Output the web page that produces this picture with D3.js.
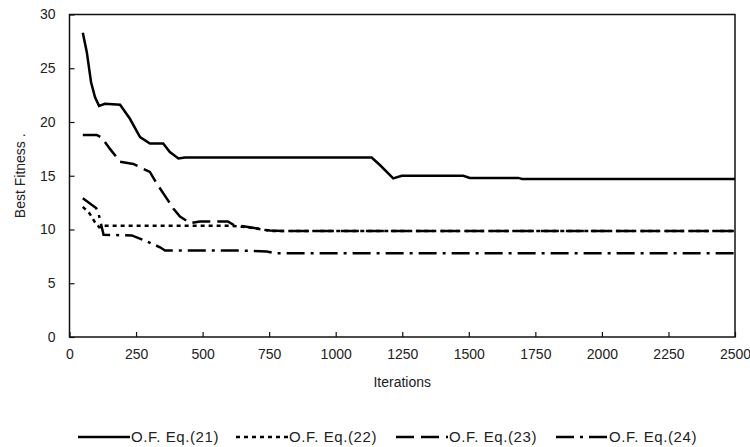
<!DOCTYPE html>
<html>
<head>
<meta charset="utf-8">
<script src="https://cdn.jsdelivr.net/npm/d3@7"></script>
<style>
  body { margin: 0; background: #fff; }
  text { font-family: "Liberation Sans", Arial, sans-serif; fill: #222; }
</style>
</head>
<body>
<div id="chart"></div>
<script>
// data: [iteration, best fitness]
const eq21 = [[50,28.3],[65,26.5],[81,23.7],[96,22.3],[111,21.5],[133,21.7],[190,21.6],[227,20.3],[265,18.6],[302,18.0],[352,18.0],[377,17.2],[409,16.6],[434,16.7],[1135,16.7],[1166,16.0],[1216,14.75],[1248,15.0],[1479,15.0],[1504,14.8],[1686,14.8],[1700,14.7],[2500,14.7]]
const eq22 = [[50,12.1],[75,11.5],[95,10.7],[112,10.2],[130,10.35],[600,10.35],[650,10.25],[700,10.1],[760,9.85],[2500,9.85]]
const eq23 = [[50,18.8],[102,18.8],[121,18.55],[152,17.5],[190,16.3],[240,16.1],[302,15.35],[327,14.3],[365,12.9],[390,11.95],[415,11.2],[453,10.6],[490,10.75],[595,10.75],[614,10.45],[665,10.25],[753,9.9],[800,9.85],[2500,9.85]]
const eq24 = [[50,12.9],[100,12.0],[108,11.6],[128,9.5],[234,9.45],[290,8.9],[340,8.35],[359,8.05],[640,8.05],[741,7.95],[772,7.8],[2500,7.8]]

const seriesNames = ['O.F. Eq.(21)', 'O.F. Eq.(22)', 'O.F. Eq.(23)', 'O.F. Eq.(24)']
const xTicks = [0, 250, 500, 750, 1000, 1250, 1500, 1750, 2000, 2250, 2500]
const yTicks = [0, 5, 10, 15, 20, 25, 30]

const allSeries = [eq21, eq22, eq23, eq24]
const dashes    = ['none', '4 4', '18 7', '18 6 3 6']

const width = 750, height = 447
const margin = {left: 69.5, right: 15, top: 14.5, bottom: 110}
const plotW = width - margin.left - margin.right
const plotH = height - margin.top - margin.bottom

const svg = d3.select('#chart').append('svg').attr('width', width).attr('height', height)
const g = svg.append('g').attr('transform', 'translate(' + margin.left + ',' + margin.top + ')')

var x = d3.scaleLinear().domain([0, 2500]).range([0, plotW])
var y = d3.scaleLinear().domain([0, 30]).range([plotH, 0])

// frame
g.append('rect').attr('width', plotW).attr('height', plotH)
  .attr('fill', 'none').attr('stroke', '#111').attr('stroke-width', 1.5)

// axes, ticks pointing inward
g.append('g').attr('transform', 'translate(0,' + plotH + ')')
  .call(d3.axisBottom(x).tickValues(xTicks).tickSizeInner(-5).tickSizeOuter(0).tickPadding(12).tickFormat(d3.format('d')))
  .call(a => a.select('.domain').remove())
g.append('g')
  .call(d3.axisLeft(y).tickValues(yTicks).tickSizeInner(-5).tickSizeOuter(0).tickPadding(14))
  .call(a => a.select('.domain').remove())
g.selectAll('.tick line').attr('stroke', '#111').attr('stroke-width', 1.2)
g.selectAll('.tick text').style('font-size', '14px').attr('fill', '#222')

// axis titles
svg.append('text').attr('x', margin.left + plotW / 2).attr('y', 387)
  .attr('text-anchor', 'middle').style('font-size', '14px').text('Iterations')
svg.append('text').attr('transform', 'rotate(-90)')
  .attr('x', -(margin.top + plotH / 2)).attr('y', 25)
  .attr('text-anchor', 'middle').style('font-size', '14px').text('Best Fitness .')

// lines
var line = d3.line().x(d => x(d[0])).y(d => y(d[1]))
for (var i = 0; i < allSeries.length; ++i) {
  g.append('path')
    .datum(allSeries[i])
    .attr('fill', 'none')
    .attr('stroke', '#000')
    .attr('stroke-width', 2.5)
    .attr('stroke-dasharray', dashes[i])
    .attr('d', line)
}

// legend
var legendX = [78, 236, 396, 556]
for (var i = 0; i < seriesNames.length; ++i) {
  svg.append('line')
    .attr('x1', legendX[i]).attr('x2', legendX[i] + 52)
    .attr('y1', 437).attr('y2', 437)
    .attr('stroke', '#000').attr('stroke-width', 2.5)
    .attr('stroke-dasharray', dashes[i])
  svg.append('text')
    .attr('x', legendX[i] + 53).attr('y', 442)
    .style('font-size', '15px')
    .style('letter-spacing', '0.6px')
    .text(seriesNames[i])
}
</script>
</body>
</html>
